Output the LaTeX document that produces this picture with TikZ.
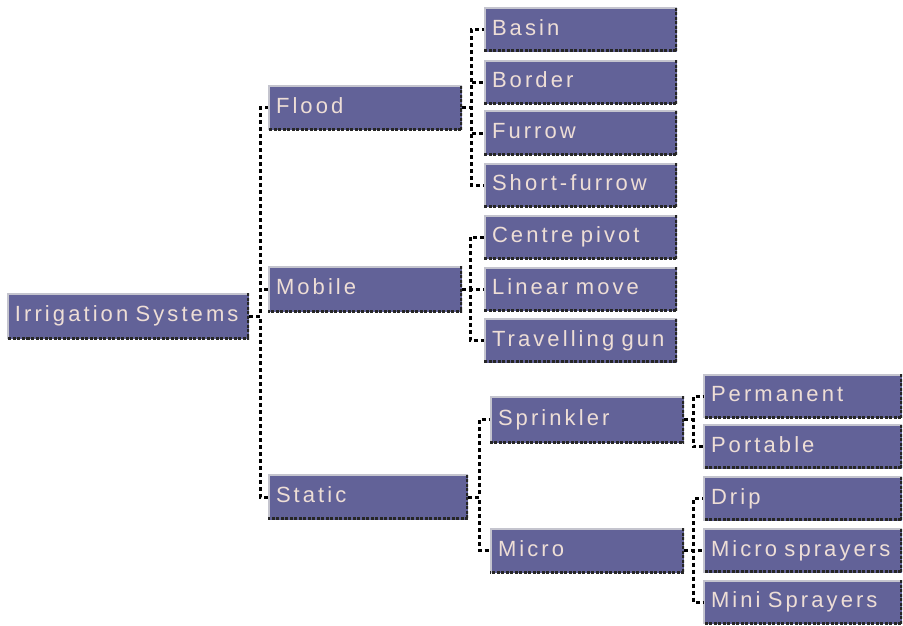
\documentclass[tikz,border=0pt]{standalone}
\usepackage{fontspec}
\setmainfont{Liberation Sans}[LetterSpace=14]
\usetikzlibrary{positioning}
\definecolor{caixaazul}{RGB}{98, 98, 152}
\definecolor{caixatexto}{RGB}{238, 222, 214}
\definecolor{caixaborda}{RGB}{196, 196, 206}

\begin{document}
\begin{tikzpicture}[
    x=1pt, y=-1pt,
    font=\fontsize{22}{26}\selectfont,
    box/.style={fill=caixaazul, text=caixatexto, align=left, inner xsep=8pt, inner ysep=0pt,
        text height=16pt, text depth=5pt, minimum height=44pt,
        path picture={
            \draw[caixaborda, line width=3pt] (path picture bounding box.south west) |- (path picture bounding box.north east);
            \draw[black!85, line width=5pt, dash pattern=on 3pt off 1.5pt] (path picture bounding box.north east) |- (path picture bounding box.south west);
        }},
    tree/.style={black, line width=3pt, dash pattern=on 4pt off 3pt},
]
\useasboundingbox (0,0) rectangle (903,626);

% ── raiz ──────────────────────────
\node[box, text width=226pt, minimum height=46pt] (irrig) at (128,316) {Irrigation Systems};

% ── nivel 1 ───────────────────────
\node[box, text width=178pt] (flood)  at (365,108) {Flood};
\node[box, text width=178pt, minimum height=46pt] (mobile) at (365,289) {Mobile};
\node[box, text width=184pt, minimum height=45pt] (static) at (368,497) {Static};

% ── Flood / Mobile ────────────────
\node[box, text width=177pt] (basin)   at (580.5,30)    {Basin};
\node[box, text width=177pt] (border)  at (580.5,82.5)  {Border};
\node[box, text width=177pt] (furrow)  at (580.5,133)   {Furrow};
\node[box, text width=177pt] (sfurrow) at (580.5,185)   {Short-furrow};
\node[box, text width=177pt] (pivot)   at (580.5,237)   {Centre pivot};
\node[box, text width=177pt] (linear)  at (580.5,289)   {Linear move};
\node[box, text width=177pt] (gun)     at (580.5,340.5) {Travelling gun};

% ── Static ────────────────────────
\node[box, text width=178pt, minimum height=47pt] (sprinkler) at (587,419.5) {Sprinkler};
\node[box, text width=178pt, minimum height=45pt] (micro)     at (587,550.5) {Micro};

\node[box, text width=183pt] (perm)     at (802.5,396)   {Permanent};
\node[box, text width=183pt] (port)     at (802.5,446.5) {Portable};
\node[box, text width=183pt] (drip)     at (802.5,498.5) {Drip};
\node[box, text width=183pt] (msprayer) at (802.5,550.5) {Micro sprayers};
\node[box, text width=183pt] (minispr)  at (802.5,602)   {Mini Sprayers};

% Ligacoes
\foreach \c in {flood, mobile, static}
    \draw[tree] (irrig.east) -- ++(11,0) |- (\c.west);
\foreach \c in {basin, border, furrow, sfurrow}
    \draw[tree] (flood.east) -- ++(9,0) |- (\c.west);
\foreach \c in {pivot, linear, gun}
    \draw[tree] (mobile.east) -- ++(8,0) |- (\c.west);
\foreach \c in {sprinkler, micro}
    \draw[tree] (static.east) -- ++(11,0) |- (\c.west);
\foreach \c in {perm, port}
    \draw[tree] (sprinkler.east) -- ++(9,0) |- (\c.west);
\foreach \c in {drip, msprayer, minispr}
    \draw[tree] (micro.east) -- ++(9,0) |- (\c.west);

\end{tikzpicture}
\end{document}
